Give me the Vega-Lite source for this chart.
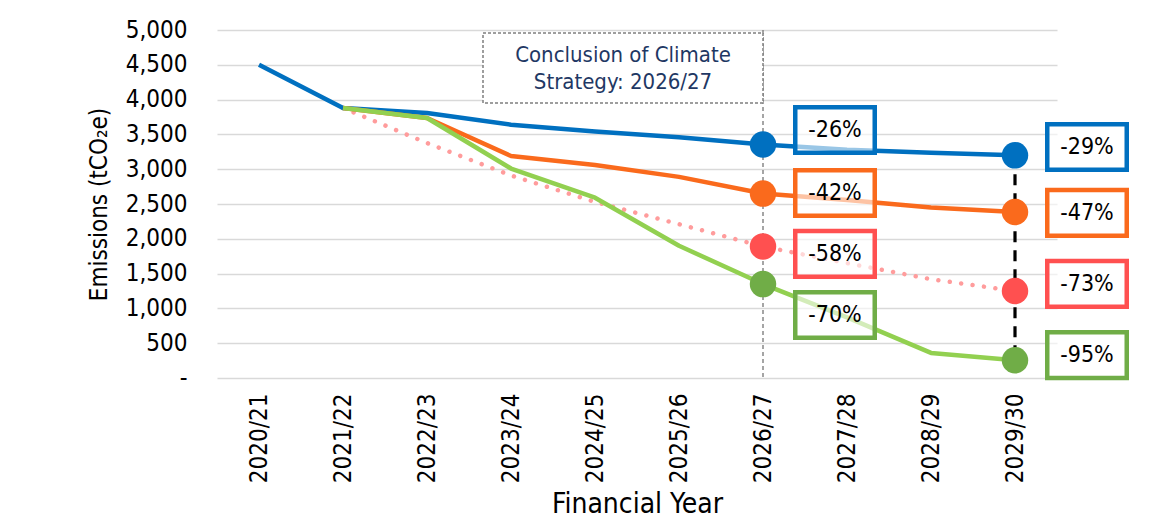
{
  "$schema": "https://vega.github.io/schema/vega-lite/v6.json",
  "width": 840,
  "height": 348,
  "autosize": "none",
  "padding": {"left": 217, "top": 30, "right": 98, "bottom": 144},
  "background": "white",
  "config": {
    "view": {"stroke": null},
    "font": "DejaVu Sans Condensed",
    "axis": {"labelFont": "DejaVu Sans Condensed", "titleFont": "DejaVu Sans Condensed", "labelColor": "#000000", "titleColor": "#000000", "titleFontWeight": "normal"},
    "axisY": {"titleFontSize": 24, "titlePadding": 14, "labelFontSize": 24, "labelPadding": 30, "labelOverlap": false, "tickCount": 10, "labelExpr": "datum.value == 0 ? '-\u2007\u2009' : format(datum.value, ',')", "domain": false, "ticks": false, "gridColor": "#d9d9d9", "gridWidth": 1.5}
  },
  "datasets": {
    "series": [
      {"scenario": "Business as usual", "year": "2020/21", "value": 4500},
      {"scenario": "Business as usual", "year": "2021/22", "value": 3880},
      {"scenario": "Business as usual", "year": "2022/23", "value": 3807},
      {"scenario": "Business as usual", "year": "2023/24", "value": 3640},
      {"scenario": "Business as usual", "year": "2024/25", "value": 3540},
      {"scenario": "Business as usual", "year": "2025/26", "value": 3460},
      {"scenario": "Business as usual", "year": "2026/27", "value": 3355},
      {"scenario": "Business as usual", "year": "2027/28", "value": 3280},
      {"scenario": "Business as usual", "year": "2028/29", "value": 3235},
      {"scenario": "Business as usual", "year": "2029/30", "value": 3200},
      {"scenario": "Scenario A", "year": "2021/22", "value": 3880},
      {"scenario": "Scenario A", "year": "2022/23", "value": 3736},
      {"scenario": "Scenario A", "year": "2023/24", "value": 3190},
      {"scenario": "Scenario A", "year": "2024/25", "value": 3060},
      {"scenario": "Scenario A", "year": "2025/26", "value": 2890},
      {"scenario": "Scenario A", "year": "2026/27", "value": 2650},
      {"scenario": "Scenario A", "year": "2027/28", "value": 2557},
      {"scenario": "Scenario A", "year": "2028/29", "value": 2450},
      {"scenario": "Scenario A", "year": "2029/30", "value": 2385},
      {"scenario": "Scenario B", "year": "2021/22", "value": 3880},
      {"scenario": "Scenario B", "year": "2022/23", "value": 3376},
      {"scenario": "Scenario B", "year": "2023/24", "value": 2910},
      {"scenario": "Scenario B", "year": "2024/25", "value": 2530},
      {"scenario": "Scenario B", "year": "2025/26", "value": 2210},
      {"scenario": "Scenario B", "year": "2026/27", "value": 1890},
      {"scenario": "Scenario B", "year": "2027/28", "value": 1650},
      {"scenario": "Scenario B", "year": "2028/29", "value": 1420},
      {"scenario": "Scenario B", "year": "2029/30", "value": 1250},
      {"scenario": "Scenario C", "year": "2021/22", "value": 3880},
      {"scenario": "Scenario C", "year": "2022/23", "value": 3736},
      {"scenario": "Scenario C", "year": "2023/24", "value": 3010},
      {"scenario": "Scenario C", "year": "2024/25", "value": 2590},
      {"scenario": "Scenario C", "year": "2025/26", "value": 1900},
      {"scenario": "Scenario C", "year": "2026/27", "value": 1350},
      {"scenario": "Scenario C", "year": "2027/28", "value": 870},
      {"scenario": "Scenario C", "year": "2028/29", "value": 360},
      {"scenario": "Scenario C", "year": "2029/30", "value": 255}
    ],
    "labels": [
      {"scenario": "Business as usual", "year": "2026/27", "level": 3563, "label": "-26%"},
      {"scenario": "Scenario A", "year": "2026/27", "level": 2658, "label": "-42%"},
      {"scenario": "Scenario B", "year": "2026/27", "level": 1782, "label": "-58%"},
      {"scenario": "Scenario C", "year": "2026/27", "level": 905, "label": "-70%"},
      {"scenario": "Business as usual", "year": "2029/30", "level": 3319, "label": "-29%"},
      {"scenario": "Scenario A", "year": "2029/30", "level": 2371, "label": "-47%"},
      {"scenario": "Scenario B", "year": "2029/30", "level": 1351, "label": "-73%"},
      {"scenario": "Scenario C", "year": "2029/30", "level": 330, "label": "-95%"}
    ],
    "note": [
      {"year": "2024/25", "level": 4454, "text": ["Conclusion of Climate", "Strategy: 2026/27"]}
    ],
    "rules": [
      {"year": "2026/27", "from": 5000, "to": 0, "kind": "conclusion"},
      {"year": "2029/30", "from": 3200, "to": 255, "kind": "target"}
    ]
  },
  "encoding": {
    "x": {
      "field": "year", "type": "ordinal",
      "scale": {"type": "point", "padding": 0.5, "domain": ["2020/21","2021/22","2022/23","2023/24","2024/25","2025/26","2026/27","2027/28","2028/29","2029/30"]},
      "axis": {"title": "Financial Year", "titleFontSize": 28, "titlePadding": 8, "labelAngle": -90, "labelFontSize": 24, "labelPadding": 15, "domain": false, "ticks": false, "grid": false, "labelOverlap": false}
    }
  },
  "layer": [
    {
      "data": {"name": "rules"},
      "transform": [{"filter": "datum.kind == 'conclusion'"}],
      "mark": {"type": "rule", "color": "#767676", "strokeWidth": 1.3, "strokeDash": [4, 3]},
      "encoding": {
        "y": {"field": "from", "type": "quantitative", "scale": {"domain": [0, 5000], "nice": false},
          "axis": {"title": "Emissions (tCO₂e)"}},
        "y2": {"field": "to"}
      }
    },
    {
      "data": {"name": "note"},
      "mark": {"type": "point", "shape": "M-1,-0.25H1V0.25H-1Z", "size": 78400, "filled": false, "fill": "white", "fillOpacity": 1, "stroke": "#7f7f7f", "strokeWidth": 1.5, "strokeDash": [3, 2], "opacity": 1, "xOffset": 28},
      "encoding": {"y": {"field": "level", "type": "quantitative"}}
    },
    {
      "data": {"name": "note"},
      "mark": {"type": "text", "fontSize": 22, "color": "#1f3864", "align": "center", "baseline": "middle", "lineHeight": 27, "dy": -13, "xOffset": 28},
      "encoding": {"y": {"field": "level", "type": "quantitative"}, "text": {"field": "text"}}
    },
    {
      "data": {"name": "series"},
      "transform": [{"filter": "datum.scenario == 'Scenario B'"}],
      "mark": {"type": "line", "strokeWidth": 4.5, "strokeDash": [0.01, 11.5], "strokeCap": "round", "color": "#ff9c9c"},
      "encoding": {"y": {"field": "value", "type": "quantitative"}}
    },
    {
      "data": {"name": "series"},
      "transform": [{"filter": "datum.scenario != 'Scenario B'"}],
      "mark": {"type": "line", "strokeWidth": 4.5, "strokeJoin": "round"},
      "encoding": {
        "y": {"field": "value", "type": "quantitative"},
        "color": {"field": "scenario", "type": "nominal", "legend": null,
          "scale": {"domain": ["Scenario A", "Scenario C", "Business as usual"], "range": ["#fa6a1c", "#92d050", "#0070c0"]}},
        "order": {"field": "year"}
      }
    },
    {
      "data": {"name": "rules"},
      "transform": [{"filter": "datum.kind == 'target'"}],
      "mark": {"type": "rule", "color": "#000000", "strokeWidth": 3.2, "strokeDash": [11, 8]},
      "encoding": {"y": {"field": "from", "type": "quantitative"}, "y2": {"field": "to"}}
    },
    {
      "data": {"name": "series"},
      "transform": [{"filter": "datum.year == '2026/27' || datum.year == '2029/30'"}],
      "mark": {"type": "circle", "size": 700, "opacity": 1},
      "encoding": {
        "y": {"field": "value", "type": "quantitative"},
        "color": {"field": "scenario", "type": "nominal", "legend": null,
          "scale": {"domain": ["Business as usual", "Scenario A", "Scenario B", "Scenario C"], "range": ["#0070c0", "#fa6a1c", "#ff5050", "#70ad47"]}}
      }
    },
    {
      "data": {"name": "labels"},
      "mark": {"type": "point", "shape": "M-1,-0.575H1V0.575H-1Z", "size": 6320, "filled": false, "fill": "white", "fillOpacity": 0.6, "strokeWidth": 4.5, "opacity": 1, "xOffset": 72},
      "encoding": {
        "y": {"field": "level", "type": "quantitative"},
        "stroke": {"field": "scenario", "type": "nominal", "legend": null,
          "scale": {"domain": ["Business as usual", "Scenario A", "Scenario B", "Scenario C"], "range": ["#0070c0", "#fa6a1c", "#ff5050", "#70ad47"]}}
      }
    },
    {
      "data": {"name": "labels"},
      "mark": {"type": "text", "fontSize": 23, "color": "#000000", "align": "center", "baseline": "middle", "xOffset": 72},
      "encoding": {"y": {"field": "level", "type": "quantitative"}, "text": {"field": "label"}}
    }
  ],
  "resolve": {"scale": {"color": "independent", "stroke": "independent"}}
}
